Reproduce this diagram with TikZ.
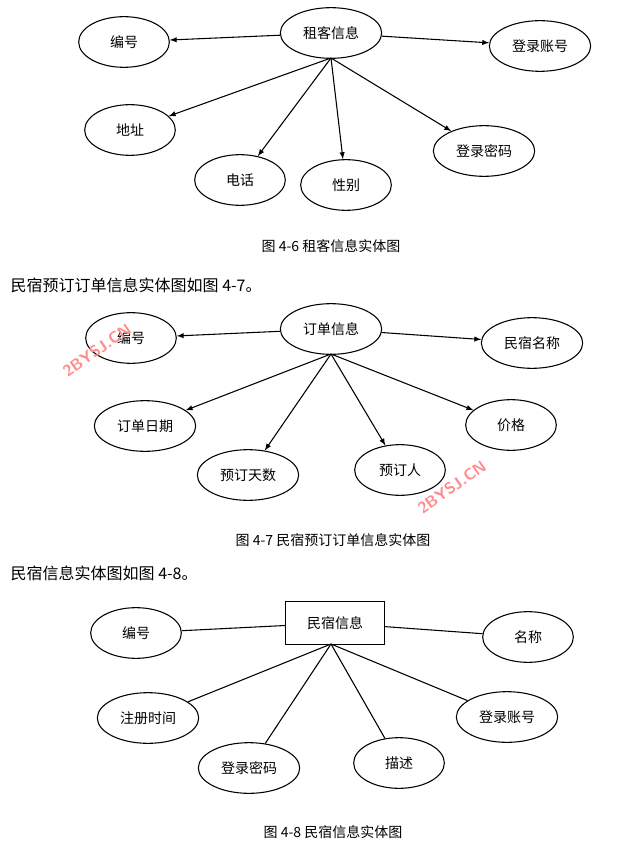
\documentclass[tikz,border=0pt]{standalone}
\usepackage{fontspec}
\setmainfont{Liberation Serif}
\newfontfamily\cjk{Noto Sans CJK SC}
\usetikzlibrary{shapes.geometric,arrows,positioning}

\begin{document}
\begin{tikzpicture}[
     x=0.75pt,y=-0.75pt,
     font=\cjk\fontsize{10.5}{12}\selectfont,
     attr/.style={ellipse,draw,thick,inner sep=0pt,minimum width=68pt,minimum height=38pt},
     wide/.style={attr,minimum width=76pt},
     ent/.style={rectangle,draw,thick,minimum width=74pt,minimum height=32pt},
     link/.style={draw,thick},
     arr/.style={link,-latex},
     wmark/.style={text=red!45,font=\sffamily\bfseries\large,rotate=35}]

    \useasboundingbox (0,0) rectangle (637,848);

    % 4-6
    \node[wide] (zk) at (331,33) {租客信息};
    \node[attr] (zkbh) at (124,42) {编号};
    \node[wide] (zkzh) at (540,46) {登录账号};
    \node[attr] (zkdz) at (130,130) {地址};
    \node[attr] (zkdh) at (240,180) {电话};
    \node[attr] (zkxb) at (346,185) {性别};
    \node[wide] (zkmm) at (484,151) {登录密码};
    \coordinate (zkc) at (331,58);
    \draw[arr] (zk) -- (zkbh);
    \draw[arr] (zk) -- (zkzh);
    \foreach \t in {zkdz,zkdh,zkxb,zkmm}
      \draw[arr] (zkc) -- (\t);
    \node (cap6) at (331,246) {图 4-6 租客信息实体图};

    \node[anchor=west,font=\cjk\fontsize{12}{14}\selectfont] (txt7) at (6,285) {民宿预订订单信息实体图如图 4-7。};

    % 4-7
    \node[wide] (dd) at (331,329) {订单信息};
    \node[attr] (ddbh) at (131,338) {编号};
    \node[wide] (ddmc) at (532,343) {民宿名称};
    \node[wide] (ddrq) at (145,426) {订单日期};
    \node[wide] (ddts) at (248,475) {预订天数};
    \node[attr] (ddr) at (400,470) {预订人};
    \node[attr] (ddjg) at (511,425) {价格};
    \coordinate (ddc) at (331,354);
    \draw[arr] (dd) -- (ddbh);
    \draw[arr] (dd) -- (ddmc);
    \foreach \t in {ddrq,ddts,ddr,ddjg}
      \draw[arr] (ddc) -- (\t);
    \node (cap7) at (333,540) {图 4-7 民宿预订订单信息实体图};

    \node[anchor=west,font=\cjk\fontsize{12}{14}\selectfont] (txt8) at (6,573) {民宿信息实体图如图 4-8。};

    % 4-8
    \node[ent] (ms) at (335,623) {民宿信息};
    \node[attr] (msbh) at (136,633) {编号};
    \node[attr] (msmc) at (528,637) {名称};
    \node[wide] (mssj) at (148,718) {注册时间};
    \node[wide] (msmm) at (249,768) {登录密码};
    \node[attr] (msms) at (399,763) {描述};
    \node[wide] (mszh) at (507,717) {登录账号};
    \coordinate (msc) at (331,644);
    \draw[link] (ms) -- (msbh);
    \draw[link] (ms) -- (msmc);
    \foreach \t in {mssj,msmm,msms,mszh}
      \draw[link] (msc) -- (\t);
    \node (cap8) at (333,832) {图 4-8 民宿信息实体图};

    % watermark
    \node[wmark] (wm1) at (97,350) {2BYSJ.CN};
    \node[wmark] (wm2) at (452,487) {2BYSJ.CN};

  \end{tikzpicture}
\end{document}
